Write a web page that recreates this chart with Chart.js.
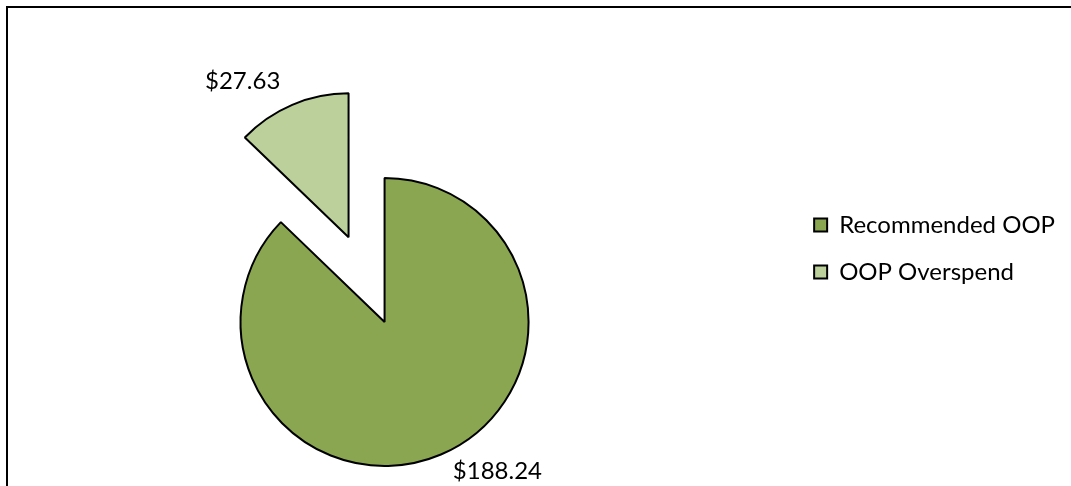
<!DOCTYPE html>
<html>
<head>
<meta charset="utf-8">
<script src="https://cdn.jsdelivr.net/npm/chart.js@4/dist/chart.umd.min.js"></script>
<style>
  html, body { margin: 0; padding: 0; background: #fff; overflow: hidden; }
  .frame { position: absolute; left: 6px; top: 6px; width: 1200px; height: 600px; border: 2px solid #000; }
  #wrap { position: absolute; left: -22px; top: 0; width: 1093px; height: 486px; }
</style>
</head>
<body>
<div class="frame"></div>
<div id="wrap"><canvas id="pieChart"></canvas></div>
<script>
// pie data
var categories = ["Recommended OOP", "OOP Overspend"];
var amounts = [188.24, 27.63];

// pull exploded slices out along their middle angle (keeps radius and angles intact)
var explodeSlices = {
    id: 'explodeSlices',
    afterDatasetUpdate: function (chart, args) {
        var dist = chart.data.datasets[args.index].explode || [];
        args.meta.data.forEach(function (arc, i) {
            var d = dist[i] || 0;
            if (!d) return;
            var mid = (arc.startAngle + arc.endAngle) / 2;
            arc.x += Math.cos(mid) * d;
            arc.y += Math.sin(mid) * d;
        });
    }
};

// "$xx.xx" labels outside each slice
var outsideLabels = {
    id: 'outsideLabels',
    afterDatasetsDraw: function (chart) {
        var ctx = chart.ctx;
        var meta = chart.getDatasetMeta(0);
        ctx.save();
        ctx.font = '24px Lato';
        ctx.fillStyle = '#000';
        ctx.textAlign = 'center';
        ctx.textBaseline = 'middle';
        meta.data.forEach(function (arc, i) {
            var mid = (arc.startAngle + arc.endAngle) / 2;
            var r = arc.outerRadius;
            var txt = '$' + amounts[i].toFixed(2);
            var w = ctx.measureText(txt).width;
            var dx = Math.cos(mid), dy = Math.sin(mid);
            var x = arc.x + dx * (r + 10) + (dx < 0 ? -1 : 1) * (w / 2 + 8);
            var y = arc.y + dy * (r + 10) + (dy < 0 ? -11 : 11) - 3;
            ctx.fillText(txt, x, y);
        });
        ctx.restore();
    }
};

function createChart() {
    Chart.defaults.font.family = 'Lato';
    Chart.defaults.color = '#000';

    var ctx = document.getElementById("pieChart").getContext('2d');
    var myPieChart = new Chart(ctx, {
        type: 'pie',
        data: {
            labels: categories,
            datasets: [{
                data: amounts,
                backgroundColor: ["#8BA650", "#BBD09A"],
                borderColor: "#000",
                borderWidth: 2,
                explode: [0, 92],
                radius: 144
            }]
        },
        options: {
            responsive: true,
            maintainAspectRatio: false,
            animation: false,
            events: [],
            cutout: '0%',
            layout: {
                padding: { left: 0, right: 6, top: 190, bottom: 32 }
            },
            plugins: {
                tooltip: { enabled: false },
                legend: {
                    position: 'right',
                    align: 'start',
                    labels: {
                        boxWidth: 13,
                        boxHeight: 13,
                        padding: 23,
                        font: { size: 24 }
                    }
                }
            }
        },
        plugins: [explodeSlices, outsideLabels]
    });
}

createChart();
</script>
</body>
</html>
